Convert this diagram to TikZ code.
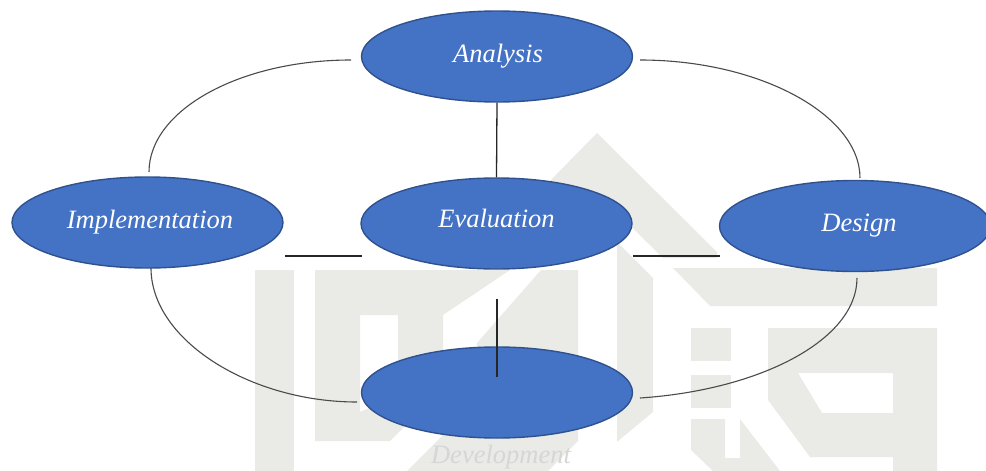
\documentclass[tikz,border=0pt]{standalone}
\usepackage{xcolor}
\usepackage{fontspec}
\setmainfont{Liberation Serif}
\usetikzlibrary{shapes.geometric, positioning}
\definecolor{phasefill}{HTML}{4472C4}
\definecolor{phaseedge}{HTML}{2F528F}
\definecolor{markgrey}{HTML}{EAEBE7}
\definecolor{curvegrey}{HTML}{4A4A4A}

\begin{document}
\begin{tikzpicture}[
    x=1pt, y=-1pt,
    phase/.style={ellipse, draw=phaseedge, line width=1.4pt, fill=phasefill, inner sep=0pt, minimum width=271pt, minimum height=91pt, text=white, font=\fontsize{26.5}{30}\selectfont\itshape},
    caption/.style={inner sep=0pt, text=black!16, font=\fontsize{26.5}{30}\selectfont\itshape},
    curve/.style={draw=curvegrey, line width=1.1pt},
    stem/.style={draw=black!85, line width=1.3pt}
]
\useasboundingbox (0,0) rectangle (986,471);

% Background mark
\fill[markgrey] (255,270) rectangle (294,471);
\fill[markgrey, even odd rule] (315,270) -- (510,270) -- (443,315) -- (443,388) -- (390,441) -- (315,441) -- cycle
    (360,315) -- (398,315) -- (398,395) -- (360,412) -- cycle;
\fill[markgrey] (541,270) -- (578,270) -- (578,441) -- (548,471) -- (407,471) -- (470,408) -- (477,343) -- cycle;
\fill[markgrey] (597,133) -- (717,252) -- (717,258) -- (663,258) -- (600,196) -- (578,240) -- (541,240) -- (541,190) -- cycle;
\fill[markgrey] (600,225) -- (653,278) -- (653,412) -- (618,441) -- (617,441) -- (617,225) -- cycle;
\fill[markgrey] (673,268) -- (937,268) -- (937,306) -- (710,306) -- cycle;
\fill[markgrey] (691,328) rectangle (731,361);
\fill[markgrey] (691,375) rectangle (731,408);
\fill[markgrey] (691,419) -- (725,419) -- (725,458) -- (740,458) -- (740,419) -- (780,471) -- (713,471) -- (691,450) -- cycle;
\fill[markgrey, even odd rule] (768,328) -- (937,328) -- (937,471) -- (893,471) -- (893,457) -- (810,457) -- (768,400) -- cycle
    (798,373) -- (893,373) -- (893,413) -- (822,413) -- cycle;

% Phases
\node[phase] (analysis) at (497,56.5) {\raisebox{-2pt}{\hspace{2pt}Analysis}};
\node[phase] (implementation) at (147.5,222.5) {\raisebox{2pt}{\hspace{5pt}Implementation}};
\node[phase] (evaluation) at (496.5,223.5) {\raisebox{11pt}{Evaluation}};
\node[phase] (design) at (855,226) {\raisebox{-5pt}{\hspace{8pt}Design}};
\node[phase] (development) at (497,392.5) {};
\node[caption] (devlabel) at (501,457) {Development};

% Free ends
\coordinate (analysisW) at (351,60);
\coordinate (analysisE) at (640,60);
\coordinate (implN) at (149,172);
\coordinate (implS) at (151,268);
\coordinate (designN) at (860,178);
\coordinate (designS) at (857,278);
\coordinate (devW) at (357,402);
\coordinate (devE) at (640,398);
\coordinate (evalS) at (497,299);
\coordinate (devC) at (497,377);
\coordinate (implR) at (285,256);
\coordinate (evalL) at (362,256);
\coordinate (evalR) at (633,256);
\coordinate (designL) at (720,256);

% Cycle
\draw[curve] (analysisW) .. controls (240,60) and (149,110) .. (implN);
\draw[curve] (analysisE) .. controls (760,60) and (860,115) .. (designN);
\draw[curve] (designS) .. controls (857,340) and (760,390) .. (devE);
\draw[curve] (implS) .. controls (151,340) and (250,402) .. (devW);

% Links to the centre
\draw[stem] (analysis.south) -- (evaluation.north);
\draw[stem] (evalS) -- (devC);
\draw[stem] (implR) -- (evalL);
\draw[stem] (evalR) -- (designL);

\end{tikzpicture}
\end{document}
